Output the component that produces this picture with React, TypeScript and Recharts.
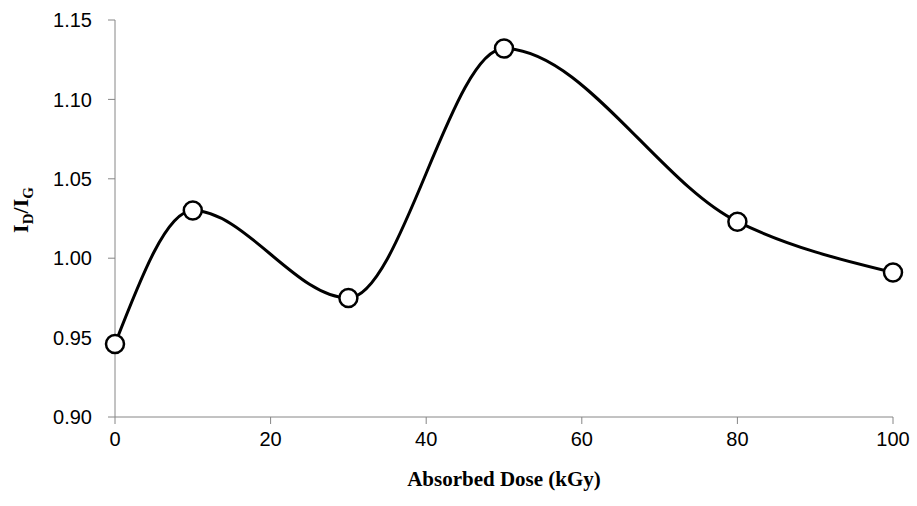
import { LineChart, Line, XAxis, YAxis } from "recharts";

const doses = [0, 10, 30, 50, 80, 100];
const ratios = [0.946, 1.03, 0.975, 1.132, 1.023, 0.991];
const xTicks = [0, 20, 40, 60, 80, 100];
const yTicks = [0.9, 0.95, 1.0, 1.05, 1.1, 1.15];

const data = doses.map((d, i) => ({ dose: d, ratio: ratios[i] }));

const axisColor = "#868686";
const tickFont = { fontFamily: "Liberation Sans, Arial, sans-serif", fontSize: 20, fill: "#000" };

function YTitle() {
	return (
		<text
			transform="translate(28, 210) rotate(-90)"
			textAnchor="middle"
			fontFamily="Liberation Serif, Times New Roman, serif"
			fontWeight="bold"
			fontSize={22}
			fill="#000"
		>
			I
			<tspan fontSize={15} dy={5}>D</tspan>
			<tspan dy={-5}>/I</tspan>
			<tspan fontSize={15} dy={5}>G</tspan>
		</text>
	);
}

export default function App() {
	return (
		<div style={{ position: "absolute", left: 0, top: 0, background: "#fff" }}>
			<LineChart
				width={917}
				height={506}
				data={data}
				margin={{ top: 20, right: 24, bottom: 0, left: 0 }}
			>
				<XAxis
					dataKey="dose"
					type="number"
					domain={[0, 100]}
					ticks={xTicks}
					height={89}
					stroke={axisColor}
					tickLine={{ stroke: axisColor }}
					tickSize={7}
					tick={tickFont}
					tickMargin={8}
					label={{
						value: "Absorbed Dose (kGy)",
						position: "insideBottom",
						offset: 20,
						style: {
							fontFamily: "Liberation Serif, Times New Roman, serif",
							fontWeight: "bold",
							fontSize: 21,
							fill: "#000",
						},
					}}
				/>
				<YAxis
					type="number"
					domain={[0.9, 1.15]}
					ticks={yTicks}
					width={115}
					stroke={axisColor}
					tickLine={{ stroke: axisColor }}
					tickSize={7}
					tick={tickFont}
					tickMargin={16}
					tickFormatter={(v: number) => v.toFixed(2)}
					label={<YTitle />}
				/>
				<Line
					type="monotone"
					dataKey="ratio"
					stroke="#000"
					strokeWidth={3}
					dot={{ r: 9, fill: "#fff", stroke: "#000", strokeWidth: 2.5 }}
					isAnimationActive={false}
				/>
			</LineChart>
		</div>
	);
}
